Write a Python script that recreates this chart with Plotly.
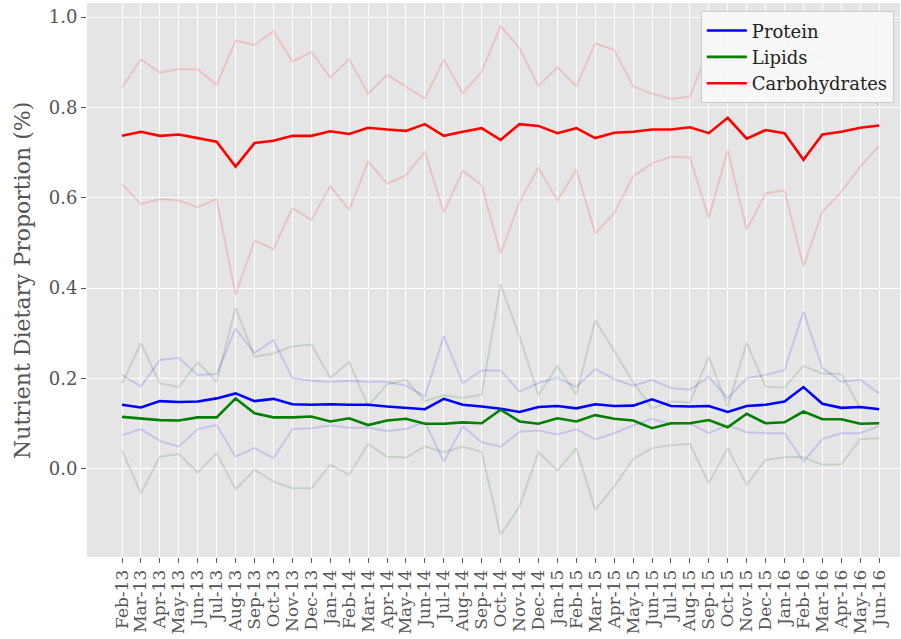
import plotly.graph_objects as go

months = ["Feb-13", "Mar-13", "Apr-13", "May-13", "Jun-13", "Jul-13", "Aug-13", "Sep-13", "Oct-13",
          "Nov-13", "Dec-13", "Jan-14", "Feb-14", "Mar-14", "Apr-14", "May-14", "Jun-14", "Jul-14",
          "Aug-14", "Sep-14", "Oct-14", "Nov-14", "Dec-14", "Jan-15", "Feb-15", "Mar-15", "Apr-15",
          "May-15", "Jun-15", "Jul-15", "Aug-15", "Sep-15", "Oct-15", "Nov-15", "Dec-15", "Jan-16",
          "Feb-16", "Mar-16", "Apr-16", "May-16", "Jun-16"]

protein_mean = [0.142, 0.136, 0.150, 0.148, 0.149, 0.156, 0.167, 0.150, 0.155, 0.143, 0.142, 0.143, 0.142, 0.142,
                0.138, 0.135, 0.132, 0.155, 0.142, 0.138, 0.133, 0.126, 0.137, 0.139, 0.134, 0.143, 0.139, 0.140,
                0.154, 0.139, 0.138, 0.139, 0.126, 0.139, 0.142, 0.149, 0.181, 0.144, 0.135, 0.137, 0.132]
protein_upper = [0.208, 0.182, 0.241, 0.246, 0.208, 0.210, 0.311, 0.256, 0.285, 0.201, 0.195, 0.193, 0.195, 0.193,
                 0.193, 0.184, 0.160, 0.294, 0.190, 0.218, 0.218, 0.171, 0.190, 0.202, 0.181, 0.221, 0.199, 0.184,
                 0.197, 0.179, 0.175, 0.204, 0.156, 0.201, 0.208, 0.219, 0.348, 0.223, 0.193, 0.197, 0.167]
protein_lower = [0.075, 0.088, 0.062, 0.049, 0.088, 0.097, 0.027, 0.046, 0.024, 0.088, 0.090, 0.096, 0.091, 0.091,
                 0.084, 0.088, 0.104, 0.016, 0.094, 0.059, 0.049, 0.082, 0.085, 0.076, 0.088, 0.065, 0.079, 0.096,
                 0.111, 0.099, 0.101, 0.079, 0.097, 0.081, 0.079, 0.079, 0.016, 0.066, 0.079, 0.079, 0.095]

lipid_mean = [0.115, 0.112, 0.108, 0.107, 0.114, 0.114, 0.156, 0.123, 0.114, 0.114, 0.116, 0.105, 0.112, 0.097,
              0.107, 0.111, 0.100, 0.100, 0.103, 0.101, 0.131, 0.105, 0.100, 0.112, 0.105, 0.119, 0.111, 0.107,
              0.090, 0.101, 0.101, 0.108, 0.092, 0.122, 0.101, 0.103, 0.127, 0.110, 0.110, 0.100, 0.101]
lipid_upper = [0.189, 0.278, 0.189, 0.181, 0.236, 0.193, 0.357, 0.248, 0.256, 0.271, 0.275, 0.201, 0.237, 0.139,
               0.187, 0.197, 0.150, 0.163, 0.157, 0.164, 0.408, 0.293, 0.163, 0.228, 0.164, 0.329, 0.261, 0.192,
               0.134, 0.149, 0.147, 0.248, 0.138, 0.279, 0.182, 0.180, 0.228, 0.211, 0.210, 0.134, 0.134]
lipid_lower = [0.041, -0.054, 0.027, 0.033, -0.008, 0.035, -0.045, -0.002, -0.028, -0.043, -0.043, 0.009, -0.013, 0.055,
               0.027, 0.025, 0.050, 0.037, 0.049, 0.038, -0.146, -0.083, 0.037, -0.004, 0.046, -0.091, -0.039, 0.022,
               0.046, 0.053, 0.055, -0.032, 0.046, -0.035, 0.020, 0.026, 0.026, 0.009, 0.010, 0.066, 0.068]

carb_mean = [0.737, 0.746, 0.737, 0.740, 0.732, 0.724, 0.669, 0.721, 0.726, 0.737, 0.737, 0.747, 0.741, 0.755,
             0.751, 0.748, 0.763, 0.737, 0.746, 0.754, 0.728, 0.763, 0.759, 0.743, 0.754, 0.732, 0.744, 0.746,
             0.751, 0.751, 0.756, 0.743, 0.777, 0.731, 0.750, 0.743, 0.684, 0.740, 0.746, 0.755, 0.760]
carb_upper = [0.844, 0.906, 0.877, 0.885, 0.884, 0.850, 0.948, 0.938, 0.969, 0.901, 0.923, 0.866, 0.907, 0.830,
              0.872, 0.846, 0.820, 0.906, 0.831, 0.879, 0.980, 0.931, 0.847, 0.889, 0.847, 0.942, 0.927, 0.847,
              0.830, 0.819, 0.824, 0.931, 0.848, 0.933, 0.890, 0.870, 0.920, 0.911, 0.879, 0.841, 0.805]
carb_lower = [0.630, 0.586, 0.597, 0.594, 0.579, 0.597, 0.385, 0.505, 0.486, 0.577, 0.551, 0.626, 0.573, 0.680,
              0.631, 0.650, 0.702, 0.567, 0.660, 0.628, 0.476, 0.591, 0.667, 0.594, 0.662, 0.521, 0.566, 0.647,
              0.676, 0.691, 0.689, 0.555, 0.706, 0.529, 0.610, 0.616, 0.448, 0.569, 0.613, 0.669, 0.715]

y_title = "Nutrient Dietary Proportion (%)"

series = [
    ("Protein", protein_mean, protein_upper, protein_lower, "#0000FF", "rgba(0,0,255,0.14)"),
    ("Lipids", lipid_mean, lipid_upper, lipid_lower, "#008000", "rgba(0,90,0,0.14)"),
    ("Carbohydrates", carb_mean, carb_upper, carb_lower, "#FF0000", "rgba(255,0,0,0.15)"),
]

FONT = "DejaVu Serif"
fig = go.Figure()

for name, mean, up, lo, col, faint in series:
    for band in (up, lo):
        fig.add_trace(go.Scatter(x=months, y=band, mode="lines", showlegend=False, hoverinfo="skip",
                                 line=dict(color=faint, width=2)))

for name, mean, up, lo, col, faint in series:
    fig.add_trace(go.Scatter(x=months, y=mean, mode="lines", name=name,
                             line=dict(color=col, width=2.6)))

fig.add_annotation(text=y_title, xref="paper", yref="paper", x=-0.080, y=0.5,
                   xanchor="center", yanchor="middle", textangle=-90, showarrow=False,
                   font=dict(family=FONT, size=22, color="#555555"))

fig.update_layout(
    width=901, height=639,
    margin=dict(l=87, r=1, t=3, b=82, autoexpand=False),
    paper_bgcolor="white",
    plot_bgcolor="#E5E5E5",
    font=dict(family=FONT, size=18, color="#555555"),
    legend=dict(x=0.755, xanchor="left", y=0.985, yanchor="top",
                bgcolor="rgba(248,248,248,0.92)", bordercolor="#CCCCCC", borderwidth=1,
                font=dict(family=FONT, size=18, color="#222222"), itemwidth=40,
                tracegroupgap=0),
    xaxis=dict(type="category", range=[-1.85, 41.1], tickangle=-90,
               tickmode="array", tickvals=months, ticktext=months,
               showgrid=True, gridcolor="white", gridwidth=1.3,
               ticks="outside", ticklen=5, tickcolor="#555555", tickwidth=1,
               showline=False, zeroline=False, automargin=False,
               tickfont=dict(family=FONT, size=17, color="#555555")),
    yaxis=dict(range=[-0.195, 1.031], tickvals=[0.0, 0.2, 0.4, 0.6, 0.8, 1.0],
               ticktext=["0.0", "0.2", "0.4", "0.6", "0.8", "1.0"],
               showgrid=True, gridcolor="white", gridwidth=1.3,
               ticks="outside", ticklen=5, tickcolor="#555555", tickwidth=1,
               showline=False, zeroline=False, automargin=False,
               tickfont=dict(family=FONT, size=18, color="#555555")),
)

fig.write_html("out.html", config={"displayModeBar": False},
               post_script="document.body.style.margin='0';document.body.style.overflow='hidden';")
